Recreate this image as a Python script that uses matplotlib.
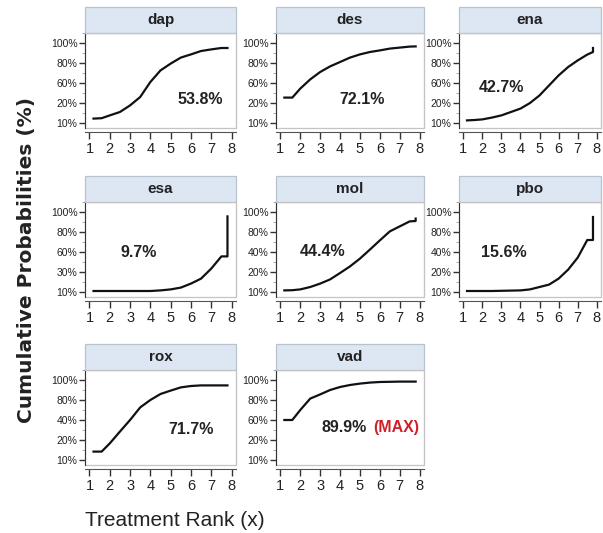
import matplotlib
matplotlib.use('Agg')
import matplotlib.pyplot as plt
from matplotlib.patches import Rectangle
from matplotlib.ticker import MultipleLocator

plt.rcParams['font.family'] = ['Liberation Sans', 'DejaVu Sans']

# treatments and their SUCRA values
treatments = ['dap', 'des', 'ena', 'esa', 'mol', 'pbo', 'rox', 'vad']
sucra_text = ['53.8%', '72.1%', '42.7%', '9.7%', '44.4%', '15.6%', '71.7%', '89.9%']

# rank positions where each cumulative curve is sampled
rank_x = [1.2, 1.6, 2.0, 2.5, 3.0, 3.5, 4.0, 4.5, 5.0, 5.5, 6.0, 6.5, 7.0, 7.5, 7.8]

# cumulative curves in tick units (0 = lowest tick, 4 = top tick)
dap_y = [0.22, 0.24, 0.38, 0.55, 0.88, 1.30, 2.05, 2.63, 2.97, 3.27, 3.43, 3.60, 3.68, 3.75, 3.75]
des_y = [1.27, 1.27, 1.72, 2.18, 2.55, 2.83, 3.05, 3.27, 3.43, 3.55, 3.63, 3.72, 3.77, 3.82, 3.83]
ena_y = [0.13, 0.15, 0.18, 0.27, 0.38, 0.55, 0.72, 1.00, 1.38, 1.88, 2.38, 2.80, 3.13, 3.42, 3.55]
esa_y = [0.05, 0.05, 0.05, 0.05, 0.05, 0.05, 0.05, 0.08, 0.13, 0.22, 0.42, 0.67, 1.17, 1.78, 1.78]
mol_y = [0.08, 0.09, 0.13, 0.25, 0.42, 0.63, 0.95, 1.28, 1.67, 2.12, 2.58, 3.03, 3.28, 3.53, 3.55]
pbo_y = [0.05, 0.05, 0.05, 0.05, 0.06, 0.07, 0.08, 0.13, 0.25, 0.37, 0.67, 1.12, 1.72, 2.60, 2.60]
rox_y = [0.42, 0.42, 0.83, 1.42, 2.00, 2.63, 3.00, 3.30, 3.47, 3.63, 3.70, 3.73, 3.73, 3.73, 3.73]
vad_y = [2.00, 2.00, 2.50, 3.07, 3.28, 3.50, 3.65, 3.75, 3.82, 3.87, 3.90, 3.91, 3.92, 3.92, 3.92]
curves = [dap_y, des_y, ena_y, esa_y, mol_y, pbo_y, rox_y, vad_y]

# final jump at rank 8 (None = no jump)
end_jump = [None, None, 3.75, 3.78, 3.67, 3.75, None, None]

# y tick labels differ between panels
ylab_a = ['10%', '20%', '60%', '80%', '100%']
ylab_b = ['10%', '30%', '60%', '80%', '100%']
ylab_c = ['10%', '20%', '40%', '80%', '100%']
ytick_labels = [ylab_a, ylab_a, ylab_a, ylab_b, ylab_c, ylab_c, ylab_c, ylab_a]

# where the SUCRA value sits in each panel (data coords)
label_pos = [(6.47, 1.18), (5.1, 1.18), (2.98, 1.77), (3.42, 1.97),
             (3.12, 2.0), (3.15, 1.97), (6.02, 1.5), (5.35, 1.62)]

W, H = 603, 533
fig = plt.figure(figsize=(W / 100, H / 100), dpi=100)
fig.patch.set_facecolor('white')

col_px = [(85, 151), (276, 148), (459, 142)]
row_bottom_px = [128, 297, 465]
plot_h = 95
head_h = 26

for i, name in enumerate(treatments):
    r, c = divmod(i, 3)
    left, width = col_px[c]
    ax = fig.add_axes([left / W, 1 - row_bottom_px[r] / H, width / W, plot_h / H])
    ax.set_xlim(0.78, 8.22)
    ax.set_ylim(-0.25, 4.5)

    xs = list(rank_x)
    ys = list(curves[i])
    if end_jump[i] is not None:
        xs.append(rank_x[-1])
        ys.append(end_jump[i])
    ax.plot(xs, ys, color='#111111', lw=1.6, solid_joinstyle='round')

    # plot box
    for s in ['top', 'right']:
        ax.spines[s].set_color('#c4c4c4')
    ax.spines['left'].set_color('#333333')
    ax.spines['bottom'].set_color('#555555')
    ax.spines['bottom'].set_position(('outward', 3))
    ax.add_patch(Rectangle((0, 0), 1, 1, transform=ax.transAxes, fill=False,
                           edgecolor='#c4c4c4', lw=0.9, clip_on=False))

    # header strip
    ax.add_patch(Rectangle((0, 1), 1, head_h / plot_h, transform=ax.transAxes,
                           facecolor='#dde7f3', edgecolor='#b9c3ce', lw=0.9,
                           clip_on=False))
    ax.text(0.5, 1 + head_h / plot_h / 2, name, transform=ax.transAxes,
            ha='center', va='center', fontsize=11, fontweight='bold',
            color='#222222')

    ax.set_xticks(range(1, 9))
    ax.tick_params(axis='x', length=5, width=1, pad=2, labelsize=10.5,
                   colors='#333333', labelcolor='#222222')
    ax.set_yticks(range(5))
    ax.set_yticklabels(ytick_labels[i])
    ax.yaxis.set_minor_locator(MultipleLocator(0.5))
    ax.tick_params(axis='y', which='major', length=4, width=1, pad=1.5,
                   labelsize=7.5, colors='#333333', labelcolor='#222222')
    ax.tick_params(axis='y', which='minor', length=2, width=0.6, colors='#999999')

    lx, ly = label_pos[i]
    if name == 'vad':
        ax.text(lx, ly, sucra_text[i], ha='right', va='center', fontsize=11.5,
                fontweight='bold', color='#222222')
        ax.text(lx + 0.3, ly, '(MAX)', ha='left', va='center', fontsize=11.5,
                fontweight='bold', color='#d0202a')
    else:
        ax.text(lx, ly, sucra_text[i], ha='center', va='center', fontsize=11.5,
                fontweight='bold', color='#222222')

fig.text(27 / W, 1 - 260 / H, 'Cumulative Probabilities (%)', rotation=90,
         ha='center', va='center', fontsize=14.5, fontweight='bold',
         family='DejaVu Sans', color='#222222')
fig.text(85 / W, 1 - 521 / H, 'Treatment Rank (x)', ha='left', va='center',
         fontsize=15, color='#222222')

fig.savefig('out.png', dpi=100)
